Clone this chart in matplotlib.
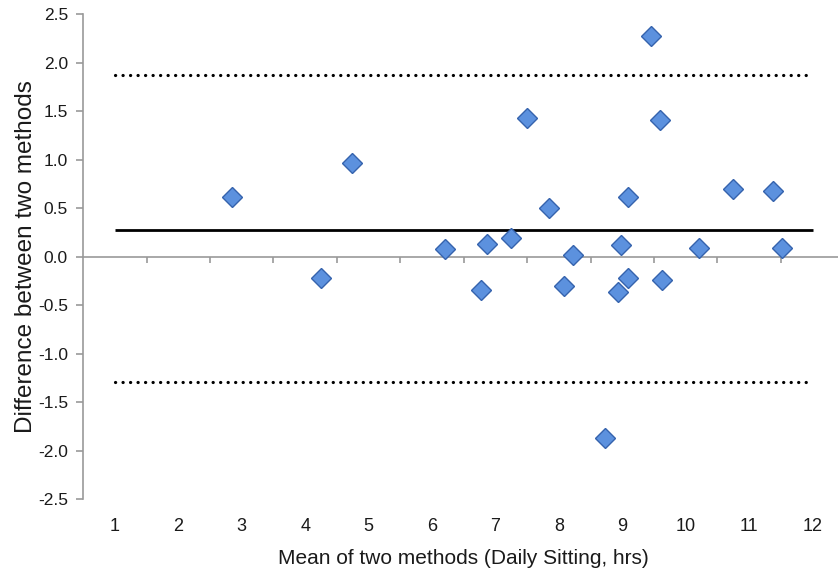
import matplotlib
matplotlib.use("Agg")
import matplotlib.pyplot as plt
from matplotlib import font_manager

plt.rcParams['font.family'] = ['Liberation Sans', 'DejaVu Sans']

# data
mean_sitting = [2.85, 4.25, 4.74, 6.21, 6.77, 6.86, 7.24, 7.49, 7.84, 8.08, 8.22, 8.73,
                8.93, 8.98, 9.09, 9.09, 9.45, 9.59, 9.63, 10.21, 10.75, 11.38, 11.51]
diff_sitting = [0.62, -0.22, 0.97, 0.08, -0.34, 0.13, 0.19, 1.43, 0.50, -0.30, 0.02, -1.87,
                -0.36, 0.12, -0.22, 0.62, 2.28, 1.41, -0.24, 0.09, 0.70, 0.68, 0.09]
mean_diff = 0.28
upper_loa = 1.87
lower_loa = -1.29
line_x = [1, 12]
x_ticks = list(range(1, 13))
y_ticks = [-2.5, -2.0, -1.5, -1.0, -0.5, 0.0, 0.5, 1.0, 1.5, 2.0, 2.5]

# narrow font for the axis titles if it is there
names = {f.name for f in font_manager.fontManager.ttflist}
if 'Liberation Sans Narrow' in names:
    title_font, xl_size, yl_size = 'Liberation Sans Narrow', 18, 21
else:
    title_font, xl_size, yl_size = 'Liberation Sans', 15, 17.5

fig = plt.figure(figsize=(8.38, 5.72), dpi=100)
ax = fig.add_axes([0.0985, 0.1276, 0.9015, 0.8474])

#limit lines
ax.plot(line_x, [mean_diff, mean_diff], color='black', lw=2.0, solid_capstyle='butt', zorder=2)
for v in [upper_loa, lower_loa]:
    ax.plot(line_x, [v, v], color='black', lw=2.3, linestyle=(0, (0.05, 2.3)),
            dash_capstyle='round', zorder=2)

#points
ax.plot(mean_sitting, diff_sitting, linestyle='none', marker='D', ms=10,
        markerfacecolor='#5c91de', markeredgecolor='#3563ad', markeredgewidth=1.0, zorder=3)

ax.set_xlim(0.49, 12.40)
ax.set_ylim(-2.5, 2.5)

for s in ['top', 'right', 'bottom']:
    ax.spines[s].set_visible(False)
ax.spines['left'].set_color('#999999')
ax.spines['left'].set_linewidth(1.2)

ax.set_yticks(y_ticks)
ax.set_yticklabels(['%.1f' % v for v in y_ticks])
ax.tick_params(axis='y', direction='out', length=5, color='#999999', width=1.2,
               labelsize=12.5, labelcolor='#1a1a1a', pad=5.5)

ax.set_xticks(x_ticks)
ax.tick_params(axis='x', length=0, labelsize=13, labelcolor='#1a1a1a', pad=13.4)

#zero axis with tick marks between the labels (drawn below the line)
zero_ax = ax.secondary_xaxis(0.5)
zero_ax.set_xticks([t + 0.5 for t in x_ticks])
zero_ax.set_xticklabels([])
zero_ax.minorticks_off()
for s in ['top', 'bottom']:
    zero_ax.spines[s].set_color('#999999')
    zero_ax.spines[s].set_linewidth(1.2)
zero_ax.tick_params(direction='in', length=4, color='#999999', width=1.2)

ax.set_xlabel('Mean of two methods (Daily Sitting, hrs)', fontsize=xl_size,
              family=title_font, color='#1a1a1a')
ax.xaxis.set_label_coords(0.504, -0.103)
ax.set_ylabel('Difference between two methods', fontsize=yl_size,
              family=title_font, color='#1a1a1a')
ax.yaxis.set_label_coords(-0.060, 0.50)

fig.savefig('out.png', dpi=100)
